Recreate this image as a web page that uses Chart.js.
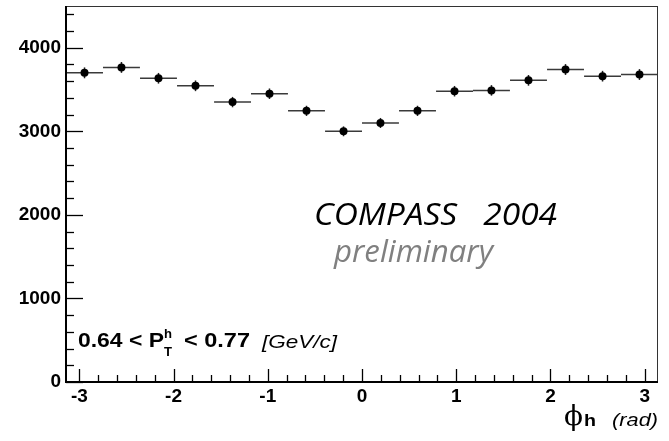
<!DOCTYPE html>
<html>
<head>
<meta charset="utf-8">
<script src="https://cdn.jsdelivr.net/npm/chart.js@4.4.1/dist/chart.umd.min.js"></script>
<style>
  html, body { margin: 0; padding: 0; background: #fff; }
  canvas { display: block; }
</style>
</head>
<body>
<canvas id="phiChart" width="669" height="441"></canvas>
<script>
// bin centres of the phi_h histogram (rad), 16 bins over [-pi, pi]
const phiCenters = [-2.945, -2.553, -2.160, -1.767, -1.374, -0.982, -0.589, -0.196,
                    0.196, 0.589, 0.982, 1.374, 1.767, 2.160, 2.553, 2.945];
const phiHalfWidth = [0.196, 0.196, 0.196, 0.196, 0.196, 0.196, 0.196, 0.196,
                      0.196, 0.196, 0.196, 0.196, 0.196, 0.196, 0.196, 0.196];
const counts = [3700, 3765, 3635, 3545, 3350, 3450, 3245, 3000,
                3100, 3245, 3480, 3490, 3610, 3740, 3660, 3680];
const countErr = [65, 65, 64, 64, 62, 63, 61, 59,
                  60, 61, 63, 63, 64, 65, 64, 65];

const xTickValues = [-3, -2, -1, 0, 1, 2, 3];
const yTickValues = [0, 1000, 2000, 3000, 4000];
const xMinorStep = 0.2;
const yMinorStep = 200;

// draw text squeezed/stretched to a given width (ROOT output is a bit wide)
function drawFit(ctx, text, x, y, font, color, width) {
  ctx.save();
  ctx.font = font;
  ctx.fillStyle = color;
  ctx.textBaseline = "alphabetic";
  ctx.textAlign = "left";
  const w = ctx.measureText(text).width;
  const sx = width ? width / w : 1;
  ctx.translate(x, y);
  ctx.scale(sx, 1);
  ctx.fillText(text, 0, 0);
  ctx.restore();
  return w * sx;
}

// -------------------------
// horizontal bin bars + vertical error bars
// -------------------------
const errorBars = {
  id: "errorBars",
  beforeDatasetsDraw(chart) {
    const { ctx, scales } = chart;
    const xs = scales.x, ys = scales.y;
    ctx.save();
    phiCenters.forEach((c, i) => {
      const yp = ys.getPixelForValue(counts[i]);
      ctx.strokeStyle = "#3a3a3a";
      ctx.lineWidth = 1.5;
      ctx.beginPath();
      ctx.moveTo(xs.getPixelForValue(c - phiHalfWidth[i]), yp);
      ctx.lineTo(xs.getPixelForValue(c + phiHalfWidth[i]), yp);
      ctx.stroke();
      const xp = xs.getPixelForValue(c);
      ctx.strokeStyle = "#222";
      ctx.beginPath();
      ctx.moveTo(xp, ys.getPixelForValue(counts[i] - countErr[i]));
      ctx.lineTo(xp, ys.getPixelForValue(counts[i] + countErr[i]));
      ctx.stroke();
    });
    ctx.restore();
  },
};

// -------------------------
// ROOT style frame, inward ticks and text
// -------------------------
const rootFrame = {
  id: "rootFrame",
  afterDraw(chart) {
    const { ctx, chartArea: a, scales } = chart;
    const xs = scales.x, ys = scales.y;
    ctx.save();

    // thin frame (top/right)
    ctx.strokeStyle = "#333";
    ctx.lineWidth = 1;
    ctx.strokeRect(a.left + 0.5, a.top + 0.5, a.right - a.left - 1, a.bottom - a.top);

    // thick left and bottom axes
    ctx.strokeStyle = "#000";
    ctx.lineWidth = 2;
    ctx.beginPath();
    ctx.moveTo(a.left, a.top);
    ctx.lineTo(a.left, a.bottom);
    ctx.lineTo(a.right, a.bottom);
    ctx.stroke();

    // y ticks
    ctx.lineWidth = 1.3;
    for (let v = 0; v <= ys.max + 1; v += yMinorStep) {
      const yp = Math.round(ys.getPixelForValue(v)) + 0.5;
      const len = v % 1000 === 0 ? 17 : 8;
      ctx.beginPath();
      ctx.moveTo(a.left, yp);
      ctx.lineTo(a.left + len, yp);
      ctx.stroke();
    }
    // x ticks
    for (let k = Math.ceil(xs.min / xMinorStep); k * xMinorStep <= xs.max; k++) {
      const v = k * xMinorStep;
      const xp = Math.round(xs.getPixelForValue(v)) + 0.5;
      const len = k % 5 === 0 ? 13 : 7;
      ctx.beginPath();
      ctx.moveTo(xp, a.bottom);
      ctx.lineTo(xp, a.bottom - len);
      ctx.stroke();
    }

    // axis title
    drawFit(ctx, "\u03D5", 564, 425, "27px 'DejaVu Serif'", "#000", 19);
    drawFit(ctx, "h", 584, 426, "bold 17px 'Liberation Sans'", "#000", 12);
    drawFit(ctx, "(rad)", 612, 426, "italic 19px 'Liberation Sans'", "#000", 46);

    // kinematic bin label
    drawFit(ctx, "0.64 < P", 78, 347, "bold 20px 'Liberation Sans'", "#000", 86);
    drawFit(ctx, "h", 164, 338, "bold 13px 'Liberation Sans'", "#000", 8);
    drawFit(ctx, "T", 164, 356, "bold 13px 'Liberation Sans'", "#000", 8);
    drawFit(ctx, "< 0.77", 184, 347, "bold 20px 'Liberation Sans'", "#000", 66);
    drawFit(ctx, "[GeV/c]", 262, 348, "italic 19px 'Liberation Sans'", "#000", 75);

    // experiment tag
    drawFit(ctx, "COMPASS   2004", 314, 225, "italic 31px 'Open Sans'", "#000", 243);
    drawFit(ctx, "preliminary", 334, 262, "italic 31px 'Open Sans'", "#808080", 159);

    ctx.restore();
  },
};

const tickFont = { family: "'Liberation Sans', Arial, sans-serif", weight: "bold", size: 19 };

new Chart(document.getElementById("phiChart").getContext("2d"), {
  type: "scatter",
  data: {
    datasets: [
      {
        label: "COMPASS 2004",
        data: phiCenters.map((x, i) => ({ x: x, y: counts[i] })),
        pointRadius: 4,
        pointBackgroundColor: "#000",
        pointBorderWidth: 0,
        showLine: false,
      },
    ],
  },
  options: {
    responsive: false,
    animation: false,
    devicePixelRatio: 1,
    layout: { padding: { left: 0, right: 11, top: 6, bottom: 0 } },
    plugins: {
      legend: { display: false },
      tooltip: { enabled: false },
    },
    scales: {
      x: {
        type: "linear",
        min: -Math.PI,
        max: Math.PI,
        grid: { display: false, drawTicks: false },
        border: { display: false },
        afterBuildTicks: (s) => { s.ticks = xTickValues.map((v) => ({ value: v })); },
        afterFit: (s) => {
          s.height = 59;
          s.paddingLeft = 0;
          s.paddingRight = 0;
        },
        ticks: {
          font: tickFont,
          color: "#000",
          padding: 3,
          maxRotation: 0,
          autoSkip: false,
          callback: (v) => String(v),
        },
      },
      y: {
        type: "linear",
        min: 0,
        max: 4500,
        grid: { display: false, drawTicks: false },
        border: { display: false },
        afterBuildTicks: (s) => { s.ticks = yTickValues.map((v) => ({ value: v })); },
        afterFit: (s) => {
          s.width = 66;
          s.paddingTop = 0;
          s.paddingBottom = 0;
        },
        ticks: {
          font: tickFont,
          color: "#000",
          padding: 5,
          callback: (v) => String(v),
        },
      },
    },
  },
  plugins: [errorBars, rootFrame],
});
</script>
</body>
</html>
